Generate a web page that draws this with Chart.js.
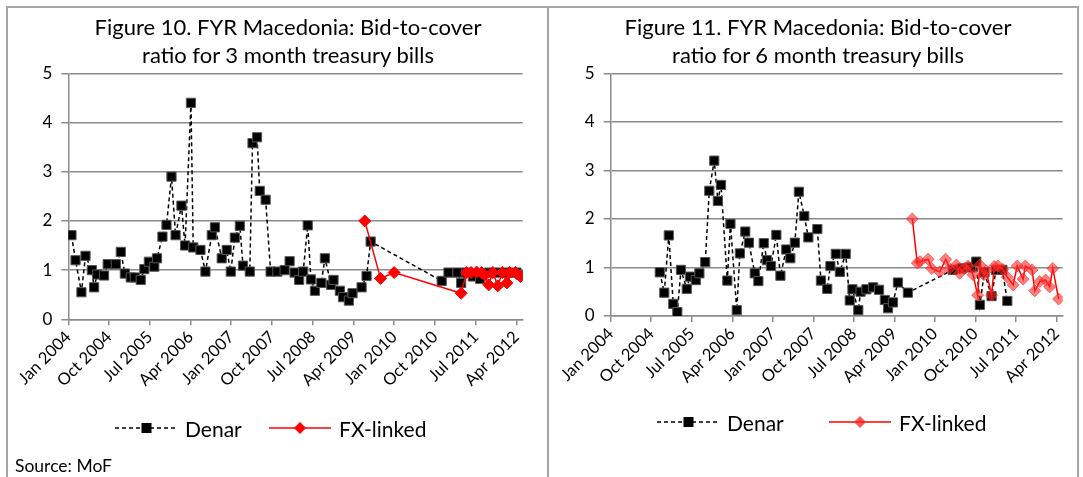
<!DOCTYPE html>
<html>
<head>
<meta charset="utf-8">
<script src="https://cdn.jsdelivr.net/npm/chart.js@4.4.1/dist/chart.umd.min.js"></script>
<style>
  body { margin: 0; background: #fff; font-family: Lato, "Open Sans", sans-serif; color: #000; }
  #page { position: relative; width: 1083px; height: 477px; overflow: hidden; }
  .frame { position: absolute; left: 6px; top: 6px; width: 1073px; height: 480px; border: 2px solid #a6a6a6; border-bottom: none; box-sizing: border-box; }
  .divider { position: absolute; left: 547px; top: 6px; width: 2px; height: 480px; background: #a6a6a6; }
  canvas { position: absolute; top: 0; }
  .title { position: absolute; top: 13px; font-size: 22px; line-height: 28px; text-align: center; white-space: nowrap; }
  .legend-item { position: absolute; display: flex; align-items: center; height: 26px; font-size: 21px; }
  .legend-item svg { margin-right: 8px; }
  .source { position: absolute; left: 15px; top: 455px; font-size: 17.5px; }
</style>
</head>
<body>
<div id="page">
  <div class="frame"></div>
  <div class="divider"></div>
  <canvas id="chart3m" width="548" height="477" style="left:0"></canvas>
  <canvas id="chart6m" width="535" height="477" style="left:548px"></canvas>

  <div class="title" style="left:68px; width:440px">Figure 10. FYR Macedonia: Bid-to-cover<br>ratio for 3 month treasury bills</div>
  <div class="title" style="left:598px; width:440px">Figure 11. FYR Macedonia: Bid-to-cover<br>ratio for 6 month treasury bills</div>

  <div class="legend-item" style="left:115px; top:415px">
    <svg width="62" height="14"><line x1="0" y1="7" x2="62" y2="7" stroke="#000" stroke-width="1.5" stroke-dasharray="4 3"/><rect x="26.5" y="2" width="10" height="10" fill="#000"/></svg>Denar
  </div>
  <div class="legend-item" style="left:269px; top:415px">
    <svg width="62" height="14"><line x1="0" y1="7" x2="62" y2="7" stroke="#ff0000" stroke-width="1.5"/><polygon points="31,1 37,7 31,13 25,7" fill="#ff0000"/></svg>FX-linked
  </div>
  <div class="legend-item" style="left:657px; top:409px">
    <svg width="62" height="14"><line x1="0" y1="7" x2="62" y2="7" stroke="#000" stroke-width="1.5" stroke-dasharray="4 3"/><rect x="26.5" y="2" width="10" height="10" fill="#000"/></svg>Denar
  </div>
  <div class="legend-item" style="left:829px; top:409px">
    <svg width="62" height="14"><line x1="0" y1="7" x2="62" y2="7" stroke="#ff0000" stroke-width="1.5"/><polygon points="31,1 37,7 31,13 25,7" fill="rgba(255,30,30,0.75)"/></svg>FX-linked
  </div>

  <div class="source">Source: MoF</div>
</div>

<script>
// x axis: months since Jan 2004, ticks every 9 months
const tickMonths = [0, 9, 18, 27, 36, 45, 54, 63, 72, 81, 90, 99];
const tickLabels = ['Jan 2004', 'Oct 2004', 'Jul 2005', 'Apr 2006', 'Jan 2007', 'Oct 2007',
                    'Jul 2008', 'Apr 2009', 'Jan 2010', 'Oct 2010', 'Jul 2011', 'Apr 2012'];

// 3 month bills
const denar3Month = [0.7, 1.6, 2.9, 3.8, 5.2, 5.7, 6.4, 7.9, 8.7, 10.5, 11.6, 12.5, 13.8, 14.7, 16.0, 16.8,
  17.8, 19.0, 19.6, 20.8, 21.7, 22.8, 23.7, 25.0, 25.8, 27.1, 27.6, 29.2, 30.3, 31.7, 32.4, 33.9, 35.0,
  35.9, 36.8, 37.9, 38.6, 40.1, 40.7, 41.7, 42.3, 43.6, 44.7, 46.2, 47.8, 48.9, 50.0, 51.0, 51.9, 52.9,
  53.6, 54.5, 55.9, 56.7, 58.1, 58.6, 60.0, 60.7, 62.0, 62.8, 64.8, 65.9, 66.8, 82.5, 84.0, 86.0, 86.8,
  88.0, 89.4, 91.0, 93.0, 95.0, 97.0, 99.0, 100.0];
const denar3Ratio = [1.71, 1.20, 0.55, 1.29, 1.00, 0.65, 0.91, 0.89, 1.12, 1.12, 1.37, 0.93, 0.85, 0.85, 0.80, 1.02,
  1.17, 1.07, 1.24, 1.68, 1.92, 2.90, 1.71, 2.31, 1.50, 4.40, 1.46, 1.41, 0.97, 1.71, 1.87, 1.24, 1.41,
  0.97, 1.66, 1.90, 1.09, 0.97, 3.58, 3.70, 2.61, 2.43, 0.97, 0.97, 1.00, 1.18, 0.95, 0.80, 0.97, 1.91,
  0.81, 0.58, 0.74, 1.24, 0.70, 0.80, 0.58, 0.45, 0.38, 0.53, 0.65, 0.88, 1.58, 0.78, 0.95, 0.95, 0.74,
  0.95, 0.87, 0.82, 0.95, 0.95, 0.95, 0.95, 0.90];
const fx3Month = [65.5, 69.0, 72.0, 86.8, 88.0, 89.0, 90.2, 91.3, 92.0, 92.9, 93.8, 94.9, 95.9, 96.9, 97.5, 98.8, 99.9];
const fx3Ratio = [2.00, 0.83, 0.95, 0.53, 0.95, 0.95, 0.96, 0.95, 0.90, 0.70, 0.95, 0.68, 0.95, 0.74, 0.95, 0.95, 0.87];

// 6 month bills
const denar6Month = [10.9, 11.9, 12.9, 13.9, 14.8, 15.6, 16.9, 17.6, 18.9, 19.7, 21.0, 21.9, 23.0, 23.8, 24.5,
  25.9, 26.6, 28.0, 28.7, 29.9, 30.7, 32.0, 32.8, 34.0, 34.7, 35.6, 36.8, 37.7, 39.0, 39.9, 40.9, 41.8,
  43.0, 43.9, 45.9, 46.7, 48.1, 48.8, 50.0, 50.9, 52.2, 53.1, 53.7, 55.0, 55.5, 56.8, 58.3, 59.6, 60.9,
  61.6, 62.7, 63.8, 66.0, 76.0, 78.0, 80.0, 81.2, 82.0, 83.0, 84.6, 85.6, 87.0, 88.1];
const denar6Ratio = [0.90, 0.48, 1.66, 0.25, 0.08, 0.95, 0.56, 0.81, 0.74, 0.88, 1.11, 2.58, 3.20, 2.37, 2.70,
  0.73, 1.90, 0.12, 1.29, 1.74, 1.51, 0.88, 0.72, 1.50, 1.15, 1.03, 1.67, 0.83, 1.37, 1.19, 1.51, 2.56,
  2.06, 1.62, 1.79, 0.73, 0.56, 1.03, 1.28, 0.91, 1.28, 0.32, 0.55, 0.12, 0.50, 0.55, 0.59, 0.54, 0.33,
  0.16, 0.28, 0.69, 0.48, 0.95, 0.98, 1.00, 1.12, 0.23, 0.90, 0.41, 0.95, 0.95, 0.31];
const fx6Month = [67.0, 68.1, 68.7, 70.5, 71.3, 73.1, 74.4, 75.3, 76.8, 77.5, 78.6, 79.4, 80.5, 81.5, 82.0,
  82.9, 83.4, 84.6, 85.2, 86.0, 87.1, 88.1, 89.4, 90.3, 91.6, 92.1, 93.6, 94.2, 95.3, 96.6, 97.5, 98.2, 99.5];
const fx6Ratio = [2.00, 1.09, 1.12, 1.17, 0.98, 0.91, 1.17, 0.98, 1.05, 0.88, 0.98, 1.03, 0.85, 0.43, 1.05,
  0.85, 0.93, 0.43, 1.02, 1.03, 0.96, 0.80, 0.64, 1.03, 0.76, 1.03, 0.95, 0.52, 0.71, 0.74, 0.60, 0.98, 0.35];

function pairs(xs, ys) {
  return xs.map((x, i) => ({ x: x, y: ys[i] }));
}

function buildChart(id, denarX, denarY, fxX, fxY, fxFill, area) {
  const axisGray = '#8c8c8c';
  new Chart(document.getElementById(id), {
    type: 'line',
    data: {
      datasets: [
        {
          label: 'Denar',
          data: pairs(denarX, denarY),
          order: 1,
          borderColor: '#000',
          borderWidth: 1.5,
          borderDash: [4, 3],
          pointStyle: 'rect',
          pointRadius: 6.5,
          pointBackgroundColor: '#000',
          pointBorderColor: '#555',
          pointBorderWidth: 1
        },
        {
          label: 'FX-linked',
          data: pairs(fxX, fxY),
          order: 0,
          borderColor: '#ff0000',
          borderWidth: 1.5,
          pointStyle: 'rectRot',
          pointRadius: 6,
          pointBackgroundColor: fxFill,
          pointBorderColor: fxFill,
          pointBorderWidth: 1
        }
      ]
    },
    options: {
      responsive: false,
      animation: false,
      layout: { padding: { top: area.top, right: area.right, left: 0, bottom: 0 } },
      plugins: {
        legend: { display: false },
        title: { display: false },
        tooltip: { enabled: false }
      },
      scales: {
        x: {
          type: 'linear',
          min: 0,
          max: 100.4,
          afterBuildTicks: function(scale) {
            scale.ticks = tickMonths.map(v => ({ value: v }));
          },
          afterFit: function(scale) {
            scale.height = area.xHeight;
          },
          ticks: {
            minRotation: 45,
            maxRotation: 45,
            padding: 2,
            color: '#000',
            font: { family: 'Lato', size: 16.5 },
            callback: function(value) {
              return tickLabels[tickMonths.indexOf(value)];
            }
          },
          grid: { drawOnChartArea: false, color: axisGray, lineWidth: 1.5, tickLength: 6 },
          border: { color: axisGray, width: 1.5 }
        },
        y: {
          min: 0,
          max: 5,
          afterFit: function(scale) {
            scale.width = area.left;
          },
          ticks: {
            stepSize: 1,
            padding: 9,
            color: '#000',
            font: { family: 'Lato', size: 17 }
          },
          grid: { color: axisGray, lineWidth: 1.5, tickLength: 7 },
          border: { color: axisGray, width: 1.5 }
        }
      }
    }
  });
}

buildChart('chart3m', denar3Month, denar3Ratio, fx3Month, fx3Ratio, '#ff0000',
  { left: 68.3, right: 25.3, top: 73.3, xHeight: 157.7 });
buildChart('chart6m', denar6Month, denar6Ratio, fx6Month, fx6Ratio, 'rgba(255,40,40,0.6)',
  { left: 62.7, right: 20.3, top: 73.3, xHeight: 161 });
</script>
</body>
</html>
